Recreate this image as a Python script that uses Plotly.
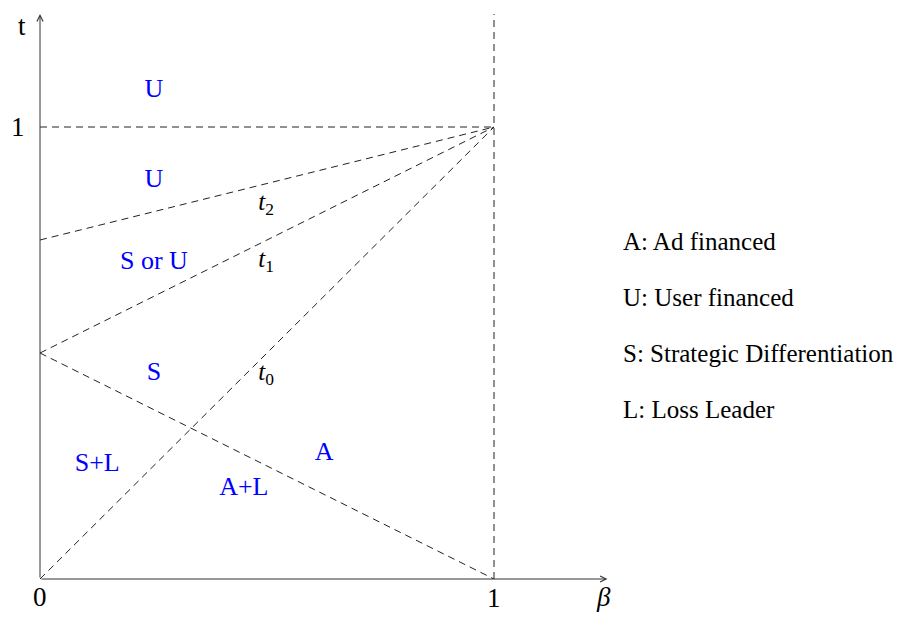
import plotly.graph_objects as go

# boundary lines of the (beta, t) diagram
beta_ends = [0, 1]
t2_line = [0.75, 1]
t1_line = [0.5, 1]
t0_line = [0, 1]
a_line = [0.5, 0]
t_one = [1, 1]
vert_beta = [1, 1]
vert_t = [0, 1.25]

# region labels
region_text = ["U", "U", "S or U", "S", "S+L", "A", "A+L"]
region_x = [0.251, 0.251, 0.251, 0.251, 0.126, 0.626, 0.449]
region_y = [1.080, 0.881, 0.701, 0.454, 0.254, 0.277, 0.201]

# curve names
curve_text = ["<i>t</i><sub>2</sub>", "<i>t</i><sub>1</sub>", "<i>t</i><sub>0</sub>"]
curve_x = [0.498, 0.498, 0.498]
curve_y = [0.830, 0.704, 0.454]

# key on the right
key_text = ["A: Ad financed", "U: User financed",
            "S: Strategic Differentiation", "L: Loss Leader"]
key_y = [0.746, 0.622, 0.498, 0.374]

FONT = "Liberation Serif, Times New Roman, serif"
DASH = dict(color="#222", width=1, dash="7px,5px")

# page body has 8px margin; keep the figure inside the window (no scrollbars)
W, H = 889, 608
XMAX = (W - 32) / 454
YMAX = 571 / 452

fig = go.Figure()

for ys in [t_one, t2_line, t1_line, t0_line, a_line]:
    fig.add_trace(go.Scatter(x=beta_ends, y=ys, mode="lines", line=DASH,
                             hoverinfo="skip"))
fig.add_trace(go.Scatter(x=vert_beta, y=vert_t, mode="lines", line=DASH,
                         hoverinfo="skip"))

# region labels in blue
fig.add_trace(go.Scatter(x=region_x, y=region_y, mode="text", text=region_text,
                         textfont=dict(family=FONT, size=26, color="#0000ff"),
                         hoverinfo="skip"))
fig.add_trace(go.Scatter(x=curve_x, y=curve_y, mode="text", text=curve_text,
                         textfont=dict(family=FONT, size=25, color="black"),
                         hoverinfo="skip"))

annotations = []
# axis arrows
annotations.append(dict(x=1.25, y=0, ax=0, ay=0, xref="x", yref="y",
                        axref="x", ayref="y", showarrow=True, arrowhead=5,
                        arrowsize=1.2, arrowwidth=1, arrowcolor="#333", text=""))
annotations.append(dict(x=0, y=1.25, ax=0, ay=0, xref="x", yref="y",
                        axref="x", ayref="y", showarrow=True, arrowhead=5,
                        arrowsize=1.2, arrowwidth=1, arrowcolor="#333", text=""))

# tick labels and axis names (paper coords so they may sit outside the axes)
for txt, x, y in [("1", -0.048, 1.0), ("0", 0.0, -0.040), ("1", 1.0, -0.042),
                  ("<i>β</i>", 1.242, -0.040), ("t", -0.040, 1.224)]:
    annotations.append(dict(x=x / XMAX, y=y / YMAX, xref="paper", yref="paper",
                            xanchor="center", yanchor="middle",
                            text=txt, showarrow=False,
                            font=dict(family=FONT, size=27, color="black")))

for txt, y in zip(key_text, key_y):
    annotations.append(dict(x=1.280, y=y, xref="x", yref="y", text=txt,
                            showarrow=False, xanchor="left", yanchor="middle",
                            font=dict(family=FONT, size=25, color="black")))

fig.update_layout(
    width=W,
    height=H,
    margin=dict(l=32, r=0, t=0, b=H - 571),
    plot_bgcolor="white",
    paper_bgcolor="white",
    showlegend=False,
    annotations=annotations,
    xaxis=dict(range=[0, XMAX], visible=False),
    yaxis=dict(range=[0, YMAX], visible=False),
)

fig.write_html("out.html")
